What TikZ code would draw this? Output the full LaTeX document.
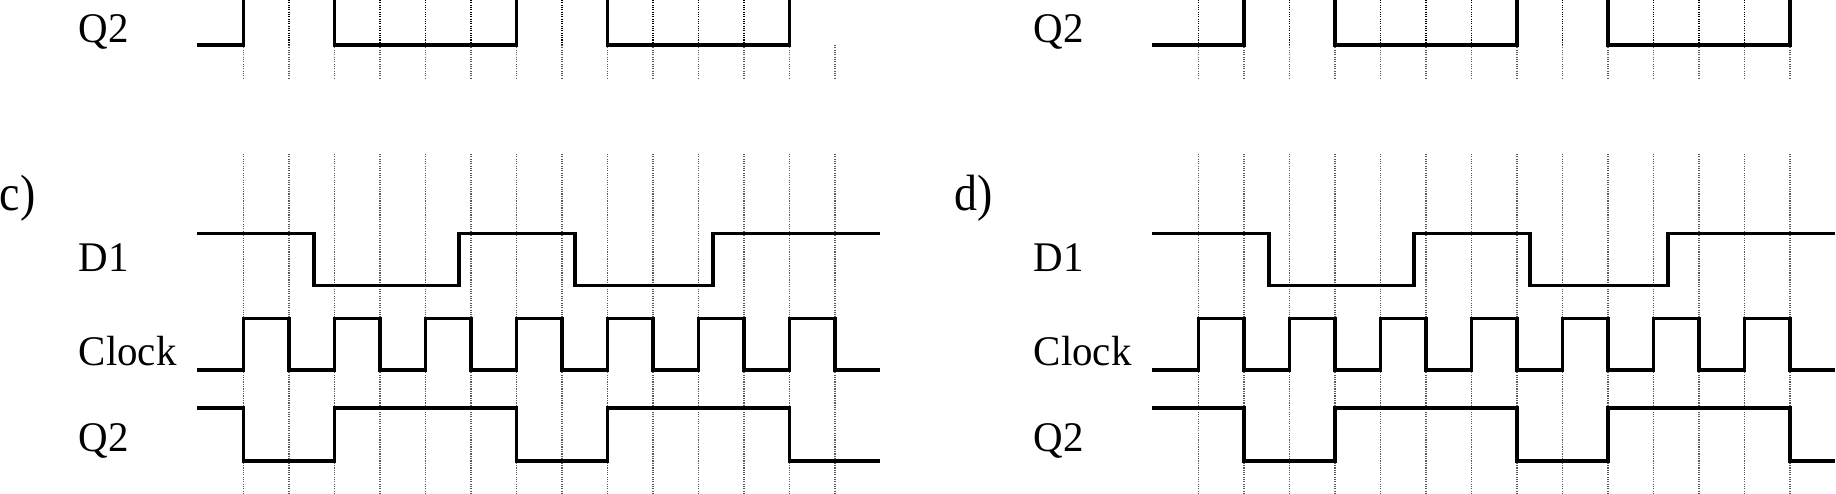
\documentclass[tikz,border=0pt]{standalone}
\usepackage{fontspec}
\setmainfont{Liberation Serif}
\begin{document}
\begin{tikzpicture}[x=0.01cm,y=-0.01cm,
  sig/.style={line width=1pt, line join=miter, line cap=butt},
  gridline/.style={black!65, line width=0.45pt, dash pattern=on 0.33pt off 0.33pt},
  gridtop/.style={black, line width=0.45pt, dash pattern=on 0.33pt off 0.33pt},
  lbl/.style={inner sep=0pt, anchor=base west, font=\fontsize{12}{14}\selectfont},
  panel/.style={inner sep=0pt, anchor=base west, font=\fontsize{14.5}{16}\selectfont}]
\useasboundingbox (0,0) rectangle (1836,493);

% ---------- left column ----------
\begin{scope}
  % top strip (end of upper panel)
  \foreach \k in {0,...,13} \draw[gridline] ({243.5+45.5*\k},45) -- ({243.5+45.5*\k},78);
  \foreach \k in {0,...,12} \draw[gridtop] ({243.5+45.5*\k},0) -- ({243.5+45.5*\k},45);
  \draw[sig] (197,45) -- (243.5,45) -- (243.5,0);
  \draw[sig] (334.5,0) |- (516.5,45) -- (516.5,0);
  \draw[sig] (607.5,0) |- (789.5,45) -- (789.5,0);
  \node[lbl] (lQtop) at (78,42) {\scalebox{0.97}[1]{Q2}};

  % panel c
  \node[panel] (lc) at (-1,210) {\scalebox{0.9}[1]{c)}};
  \foreach \k in {0,...,13} \draw[gridline] ({243.5+45.5*\k},154) -- ({243.5+45.5*\k},493);
  \draw[sig] (197,233.3) -- (313.8,233.3) -- (313.8,285.7) -- (459,285.7) -- (459,233.3)
    -- (575,233.3) -- (575,285.7) -- (713,285.7) -- (713,233.3) -- (880,233.3);
  \draw[sig] (197,370) -- (243.5,370) |- (289,318.5) |- (334.5,370) |- (380,318.5)
    |- (425.5,370) |- (471,318.5) |- (516.5,370) |- (562,318.5) |- (607.5,370)
    |- (653,318.5) |- (698.5,370) |- (744,318.5) |- (789.5,370) |- (835,318.5) |- (880,370);
  \draw[sig] (197,408) -- (243.5,408) |- (334.5,461) |- (516.5,408) |- (607.5,461)
    |- (789.5,408) |- (880,461);
  \node[lbl] (lD1) at (78,271.7) {\scalebox{0.97}[1]{D1}};
  \node[lbl] (lClk) at (78,365) {\scalebox{0.97}[1]{Clock}};
  \node[lbl] (lQ2) at (78,451.7) {\scalebox{0.97}[1]{Q2}};
\end{scope}

% ---------- right column ----------
\begin{scope}[xshift=9.545cm]
  % top strip
  \foreach \k in {0,...,13} \draw[gridline] ({243.5+45.5*\k},45) -- ({243.5+45.5*\k},78);
  \foreach \k in {0,...,12} \draw[gridtop] ({243.5+45.5*\k},0) -- ({243.5+45.5*\k},45);
  \draw[sig] (197,45) -- (289,45) -- (289,0);
  \draw[sig] (380,0) |- (562,45) -- (562,0);
  \draw[sig] (653,0) |- (835,45) -- (835,0);
  \node[lbl] (rQtop) at (78,42) {\scalebox{0.97}[1]{Q2}};

  % panel d
  \node[panel] (rd) at (-1.5,210) {\scalebox{0.9}[1]{d)}};
  \foreach \k in {0,...,13} \draw[gridline] ({243.5+45.5*\k},154) -- ({243.5+45.5*\k},493);
  \draw[sig] (197,233.3) -- (313.8,233.3) -- (313.8,285.7) -- (459,285.7) -- (459,233.3)
    -- (575,233.3) -- (575,285.7) -- (713,285.7) -- (713,233.3) -- (880,233.3);
  \draw[sig] (197,370) -- (243.5,370) |- (289,318.5) |- (334.5,370) |- (380,318.5)
    |- (425.5,370) |- (471,318.5) |- (516.5,370) |- (562,318.5) |- (607.5,370)
    |- (653,318.5) |- (698.5,370) |- (744,318.5) |- (789.5,370) |- (835,318.5) |- (880,370);
  \draw[sig] (197,408) -- (289,408) |- (380,461) |- (562,408) |- (653,461)
    |- (835,408) |- (880,461);
  \node[lbl] (rD1) at (78,271.7) {\scalebox{0.97}[1]{D1}};
  \node[lbl] (rClk) at (78,365) {\scalebox{0.97}[1]{Clock}};
  \node[lbl] (rQ2) at (78,451.7) {\scalebox{0.97}[1]{Q2}};
\end{scope}
\end{tikzpicture}
\end{document}
